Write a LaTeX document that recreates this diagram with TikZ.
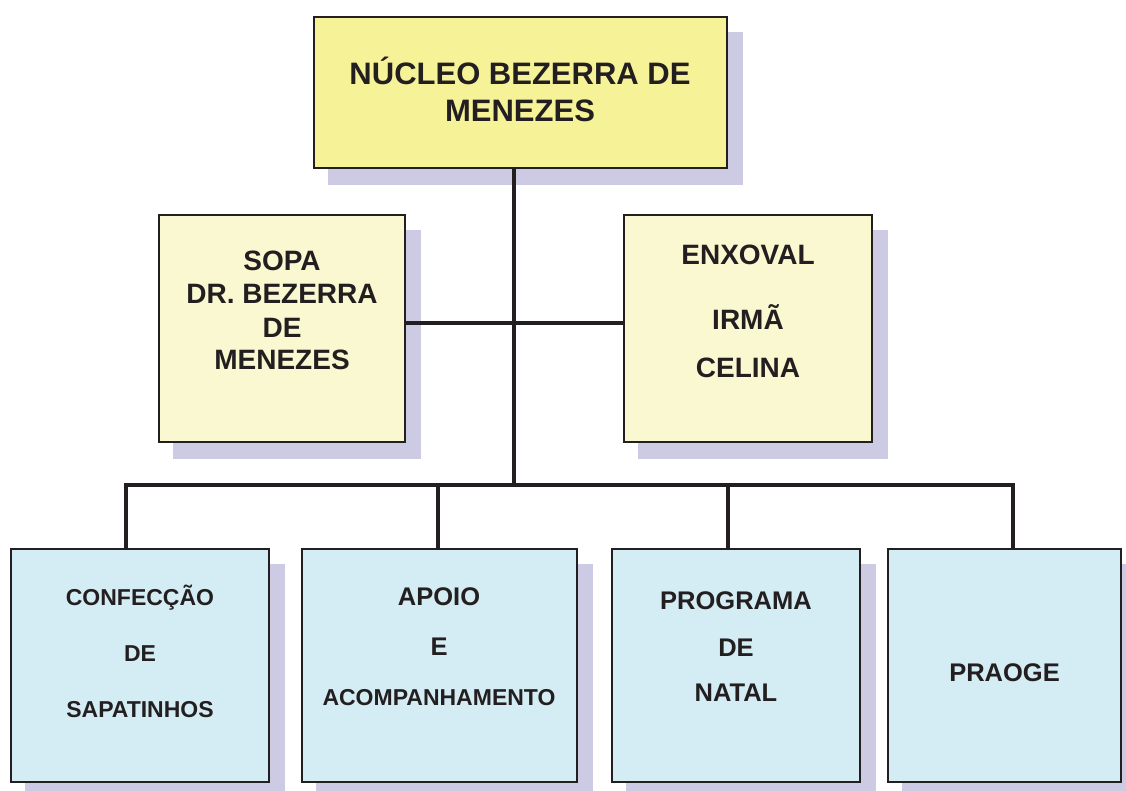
\documentclass[tikz,border=0pt]{standalone}
\usepackage{fontspec}
\setmainfont{Liberation Sans}
\usetikzlibrary{calc}
\pgfdeclarelayer{shadowlayer}
\pgfsetlayers{shadowlayer,main}
\definecolor{ink}{HTML}{231F20}
\definecolor{topfill}{HTML}{F6F298}
\definecolor{midfill}{HTML}{FAF8D0}
\definecolor{lowfill}{HTML}{D4ECF3}
\definecolor{shadowc}{HTML}{CDCAE4}
\tikzset{
  box/.style={draw=ink, line width=2.2pt, inner sep=0pt},
  topbox/.style={box, fill=topfill},
  midbox/.style={box, fill=midfill},
  lowbox/.style={box, fill=lowfill},
  conn/.style={draw=ink, line width=4.2pt},
  lbl/.style={anchor=base, inner sep=0pt, text=ink},
  bigtxt/.style={lbl, font=\fontsize{31}{37}\selectfont\bfseries},
  midtxt/.style={lbl, font=\fontsize{28}{33}\selectfont\bfseries},
  lowtxt/.style={lbl, font=\fontsize{23}{28}\selectfont\bfseries},
  lowbig/.style={lbl, font=\fontsize{25.5}{30}\selectfont\bfseries},
}
\newcommand{\dropshadow}[1]{%
  \fill[shadowc] ([shift={(15,16)}]#1.south west) rectangle ([shift={(15,16)}]#1.north east);}
\begin{document}
\begin{tikzpicture}[x=1pt,y=-1pt]
\useasboundingbox (0,0) rectangle (1126,791);
\clip (0,0) rectangle (1126,791);

% boxes
\node[topbox, minimum width=413, minimum height=151] (top) at (520.5,92.5) {};
\node[midbox, minimum width=246, minimum height=227] (sopa) at (282,328.5) {};
\node[midbox, minimum width=248, minimum height=227] (enx) at (748,328.5) {};
\node[lowbox, minimum width=258, minimum height=233] (b1) at (140,665.5) {};
\node[lowbox, minimum width=275, minimum height=233] (b2) at (439.5,665.5) {};
\node[lowbox, minimum width=248, minimum height=233] (b3) at (736,665.5) {};
\node[lowbox, minimum width=233, minimum height=233] (b4) at (1004.5,665.5) {};

% shadows and connectors below the boxes
\begin{pgfonlayer}{shadowlayer}
  \dropshadow{top}
  \dropshadow{sopa}
  \dropshadow{enx}
  \dropshadow{b1}
  \dropshadow{b2}
  \dropshadow{b3}
  \dropshadow{b4}
  \coordinate (hub) at (514,485);
  \coordinate (mid) at (514,323);
  \coordinate (d1) at (126,485);
  \coordinate (d2) at (438,485);
  \coordinate (d3) at (728,485);
  \coordinate (d4) at (1013,485);
  \draw[conn] (top.south -| hub) -- (hub);
  \draw[conn] (sopa.east |- mid) -- (enx.west |- mid);
  \draw[conn, line join=miter] (d1 |- b1.north) -- (d1) -- (d4) -- (d4 |- b4.north);
  \draw[conn] (d2) -- (d2 |- b2.north);
  \draw[conn] (d3) -- (d3 |- b3.north);
\end{pgfonlayer}

% texts
\node[bigtxt] (t1a) at (520,85) {NÚCLEO BEZERRA DE};
\node[bigtxt] (t1b) at (520,122) {MENEZES};

\node[midtxt] (s1) at (282,271) {SOPA};
\node[midtxt] (s2) at (282,304) {DR. BEZERRA};
\node[midtxt] (s3) at (282,337) {DE};
\node[midtxt] (s4) at (282,369) {MENEZES};

\node[midtxt] (e1) at (748,265) {ENXOVAL};
\node[midtxt] (e2) at (748,330) {IRMÃ};
\node[midtxt] (e3) at (748,377) {CELINA};

\node[lowtxt] (c1) at (140,605) {CONFECÇÃO};
\node[lowtxt] (c2) at (140,661) {DE};
\node[lowtxt] (c3) at (140,717) {SAPATINHOS};

\node[lowbig] (a1) at (439,605) {APOIO};
\node[lowbig] (a2) at (439,655) {E};
\node[lowtxt] (a3) at (439,705) {ACOMPANHAMENTO};

\node[lowbig] (p1) at (736,609) {PROGRAMA};
\node[lowbig] (p2) at (736,656) {DE};
\node[lowbig] (p3) at (736,701) {NATAL};

\node[lowbig] (g1) at (1004.5,681) {PRAOGE};
\end{tikzpicture}
\end{document}
